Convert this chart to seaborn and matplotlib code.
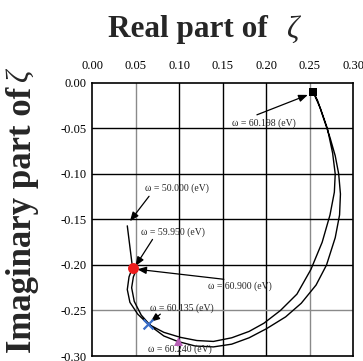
import numpy as np
import pandas as pd
import matplotlib
matplotlib.use("Agg")
import matplotlib.pyplot as plt
import seaborn as sns

# ---- data ----
# trajectory of zeta (real, imaginary) from 50.000 eV to 60.900 eV
path_re = [0.040, 0.043, 0.046,
           0.042, 0.040, 0.043, 0.052, 0.064,
           0.082, 0.101, 0.120, 0.139, 0.160, 0.180, 0.197, 0.216, 0.235, 0.251,
           0.264, 0.273, 0.278, 0.279, 0.276, 0.270, 0.262, 0.256, 0.254,
           0.259, 0.266, 0.273, 0.279, 0.283, 0.285, 0.284, 0.279, 0.269, 0.257,
           0.240, 0.222, 0.200, 0.180, 0.160, 0.139, 0.118, 0.098,
           0.082, 0.068, 0.056, 0.048, 0.045, 0.047, 0.051]
path_im = [-0.157, -0.180, -0.203,
           -0.213, -0.227, -0.241, -0.254, -0.265,
           -0.274, -0.2795, -0.283, -0.284, -0.280, -0.273, -0.264, -0.250, -0.232, -0.205,
           -0.175, -0.145, -0.120, -0.100, -0.077, -0.050, -0.028, -0.015, -0.010,
           -0.020, -0.040, -0.060, -0.080, -0.100, -0.122, -0.145, -0.170, -0.200, -0.222,
           -0.242, -0.257, -0.270, -0.280, -0.287, -0.290, -0.289, -0.284,
           -0.278, -0.268, -0.255, -0.240, -0.225, -0.213, -0.204]

# marked points
mark_re = [0.046, 0.064, 0.254, 0.098]
mark_im = [-0.203, -0.265, -0.010, -0.284]
mark_name = ["59.950", "60.135", "60.198", "60.240"]

# labels (omega values) with label centre, arrow tail and arrow head
lab_text = ["ω = 60.198 (eV)", "ω = 50.000 (eV)", "ω = 59.950 (eV)",
            "ω = 60.900 (eV)", "ω = 60.135 (eV)", "ω = 60.240 (eV)"]
lab_x = [0.197, 0.097, 0.093, 0.169, 0.103, 0.100]
lab_y = [-0.0438, -0.116, -0.1642, -0.2234, -0.2475, -0.2925]
arr_tail_x = [0.189, 0.065, 0.069, 0.151, 0.078, None]
arr_tail_y = [-0.035, -0.1245, -0.1719, -0.2157, -0.254, None]
arr_head_x = [0.2475, 0.043, 0.0494, 0.0514, 0.0667, None]
arr_head_y = [-0.0131, -0.1519, -0.2011, -0.2047, -0.2625, None]

xticks = [0.00, 0.05, 0.10, 0.15, 0.20, 0.25, 0.30]
yticks = [0.00, -0.05, -0.10, -0.15, -0.20, -0.25, -0.30]

# ---- plotting ----
sns.set_theme(style="white")
plt.rcParams["font.family"] = ["Liberation Serif", "DejaVu Serif"]
plt.rcParams["axes.unicode_minus"] = False

fig = plt.figure(figsize=(3.63, 3.61), dpi=100)
ax = fig.add_axes([0.2548, 0.01385, 0.7190, 0.7563])

df = pd.DataFrame({"re": path_re, "im": path_im})
sns.lineplot(data=df, x="re", y="im", sort=False, estimator=None,
             color="black", linewidth=1.0, ax=ax, zorder=3)

mdf = pd.DataFrame({"re": mark_re, "im": mark_im, "w": mark_name})
styles = {"59.950": dict(marker="o", color="#ee1c1c", s=62, linewidths=0),
          "60.135": dict(marker="x", color="#3a6ec8", s=50, linewidths=1.6),
          "60.198": dict(marker="s", color="black", s=32, linewidths=0),
          "60.240": dict(marker="^", color="#b65fb5", s=42, linewidths=0)}
for name, st in styles.items():
    sub = mdf[mdf["w"] == name]
    sns.scatterplot(data=sub, x="re", y="im", ax=ax, zorder=5, **st)

for i, t in enumerate(lab_text):
    ax.text(lab_x[i], lab_y[i], t, fontsize=7, ha="center", va="center", zorder=4)
    if arr_tail_x[i] is not None:
        ax.annotate("", xy=(arr_head_x[i], arr_head_y[i]),
                    xytext=(arr_tail_x[i], arr_tail_y[i]),
                    arrowprops=dict(arrowstyle="-|>,head_length=0.45,head_width=0.18",
                                    color="black", lw=0.9, shrinkA=0, shrinkB=0),
                    zorder=4)

ax.set_xlim(0.0, 0.30)
ax.set_ylim(-0.30, 0.0)
ax.set_xticks(xticks)
ax.set_yticks(yticks)
ax.set_xticklabels([f"{v:.2f}" for v in xticks])
ax.set_yticklabels([f"{v:.2f}" for v in yticks])
ax.xaxis.tick_top()
ax.tick_params(axis="both", length=0, labelsize=9, colors="black")
ax.tick_params(axis="x", pad=8)
ax.tick_params(axis="y", pad=4)
ax.set_xlabel("")
ax.set_ylabel("")

gray_x = [0.05, 0.25]
gray_y = [-0.25]
for v in xticks[1:-1]:
    ax.axvline(v, color="#8a8a8a" if v in gray_x else "black", lw=1.0, zorder=1)
for v in yticks[1:-1]:
    ax.axhline(v, color="#8a8a8a" if v in gray_y else "black", lw=1.0, zorder=1)
for sp in ax.spines.values():
    sp.set_color("black")
    sp.set_linewidth(1.2)
    sp.set_visible(True)

fig.text(0.518, 0.917, "Real part of", fontsize=22.5, fontweight="bold",
         ha="center", va="center")
fig.text(0.805, 0.917, "ζ", fontsize=22, style="italic", ha="center", va="center")
fig.text(0.062, 0.392, "Imaginary part of", fontsize=25, fontweight="bold",
         rotation=90, ha="center", va="center")
fig.text(0.055, 0.79, "ζ", fontsize=22, style="italic", rotation=90,
         ha="center", va="center")

fig.savefig("out.png", dpi=100)
